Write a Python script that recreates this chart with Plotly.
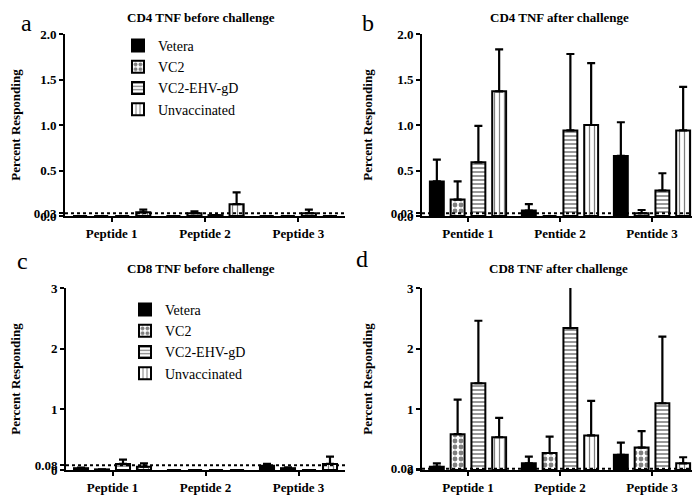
import plotly.graph_objects as go

W, H = 700, 496
OX, OY = 0, 8  # observed page offset of the figure inside the browser window

groups = ["Vetera", "VC2", "VC2-EHV-gD", "Unvaccinated"]
cats_a = ["Peptide 1", "Peptide 2", "Peptide 3"]
cats_b = ["Pentide 1", "Pentide 2", "Pentide 3"]
cats_c = ["Peptide 1", "Peptide 2", "Peptide 3"]
cats_d = ["Peptide 1", "Peptide 2", "Peptide 3"]

titles = ["CD4 TNF before challenge", "CD4 TNF after challenge",
          "CD8 TNF before challenge", "CD8 TNF after challenge"]
letters = ["a", "b", "c", "d"]

# Panel a: CD4 TNF before challenge (mean, upper SEM)
a_vals = [[0.0, 0.0, 0.0], [0.0, 0.03, 0.0], [0.0, 0.01, 0.03], [0.04, 0.13, 0.0]]
a_errs = [[0.0, 0.0, 0.0], [0.0, 0.02, 0.0], [0.0, 0.0, 0.04], [0.03, 0.13, 0.0]]
# Panel b: CD4 TNF after challenge
b_vals = [[0.38, 0.06, 0.66], [0.18, 0.0, 0.03], [0.59, 0.94, 0.28], [1.37, 1.00, 0.94]]
b_errs = [[0.24, 0.07, 0.37], [0.20, 0.0, 0.036], [0.40, 0.84, 0.19], [0.46, 0.68, 0.48]]
# Panel c: CD8 TNF before challenge
c_vals = [[0.03, 0.0, 0.07], [0.01, 0.0, 0.03], [0.10, 0.0, 0.0], [0.055, 0.0, 0.10]]
c_errs = [[0.01, 0.0, 0.03], [0.0, 0.0, 0.015], [0.07, 0.0, 0.0], [0.055, 0.0, 0.12]]
# Panel d: CD8 TNF after challenge
d_vals = [[0.055, 0.11, 0.25], [0.59, 0.28, 0.37], [1.43, 2.34, 1.10], [0.54, 0.57, 0.11]]
d_errs = [[0.055, 0.11, 0.20], [0.57, 0.27, 0.27], [1.03, 0.70, 1.10], [0.32, 0.57, 0.10]]

# thresholds (dotted lines) and y tick labels
thresholds = [0.03, 0.03, 0.08, 0.02]
ytick_a = [0, 0.03, 0.5, 1.0, 1.5, 2.0]
ytext_a = ["0.0", "0.03", "0.5", "1.0", "1.5", "2.0"]
ytick_c = [0, 0.08, 1, 2, 3]
ytext_c = ["0", "0.08", "1", "2", "3"]
ytick_d = [0, 0.02, 1, 2, 3]
ytext_d = ["0", "0.02", "1", "2", "3"]

SERIF = "Times New Roman, Liberation Serif, DejaVu Serif, serif"

styles = [
    dict(color="black"),
    dict(color="white", pattern=dict(shape=".", fgcolor="black", bgcolor="white", size=6, solidity=0.5)),
    dict(color="white", pattern=dict(shape="-", fgcolor="black", bgcolor="white", size=4, solidity=0.4)),
    dict(color="white", pattern=dict(shape="|", fgcolor="black", bgcolor="white", size=5, solidity=0.25)),
]

def fx(px):
    return (px - OX) / W

def fy(py):
    return (H - (py - OY)) / H

def px_x(a, b):
    return [fx(a), fx(b)]

def px_y(top, bottom):
    return [fy(bottom), fy(top)]

panels = [
    dict(cats=cats_a, vals=a_vals, errs=a_errs, xd=px_x(57, 337), yd=px_y(34, 216), yr=[0, 2.0],
         tv=ytick_a, tt=ytext_a, legend="legend"),
    dict(cats=cats_b, vals=b_vals, errs=b_errs, xd=px_x(414, 690), yd=px_y(34, 216), yr=[0, 2.0],
         tv=ytick_a, tt=ytext_a, legend=None),
    dict(cats=cats_c, vals=c_vals, errs=c_errs, xd=px_x(58, 337), yd=px_y(288, 470), yr=[0, 3.0],
         tv=ytick_c, tt=ytext_c, legend="legend2"),
    dict(cats=cats_d, vals=d_vals, errs=d_errs, xd=px_x(414, 690), yd=px_y(288, 470), yr=[0, 3.0],
         tv=ytick_d, tt=ytext_d, legend=None),
]

fig = go.Figure()
layout = {}
shapes = []
for p_i, p in enumerate(panels):
    n = "" if p_i == 0 else str(p_i + 1)
    xa, ya = "x" + n, "y" + n
    for g_i, g in enumerate(groups):
        st = styles[g_i]
        marker = dict(color=st["color"], line=dict(color="black", width=2))
        if "pattern" in st:
            marker["pattern"] = st["pattern"]
        kw = {}
        if p["legend"]:
            kw["legend"] = p["legend"]
        fig.add_trace(go.Bar(
            x=p["cats"], y=p["vals"][g_i], name=g, xaxis=xa, yaxis=ya,
            marker=marker, showlegend=bool(p["legend"]),
            error_y=dict(type="data", array=p["errs"][g_i], arrayminus=[0, 0, 0],
                         symmetric=False, color="black", thickness=2.2, width=4),
            **kw))
    layout["xaxis" + n] = dict(
        domain=p["xd"], anchor=ya, showline=True, linecolor="black", linewidth=2,
        ticks="outside", ticklen=4, tickwidth=1.5, tickcolor="black",
        tickfont=dict(family=SERIF, size=13, color="black", weight="bold"),
        showgrid=False, zeroline=False, fixedrange=True, automargin=False)
    layout["yaxis" + n] = dict(
        domain=p["yd"], anchor=xa, range=p["yr"], showline=True, linecolor="black", linewidth=2,
        ticks="outside", ticklen=4, tickwidth=2, tickcolor="black",
        tickvals=p["tv"], ticktext=p["tt"],
        tickfont=dict(family=SERIF, size=13, color="black", weight="bold"),
        showgrid=False, zeroline=False, automargin=False,
        title=dict(text="Percent Responding",
                   font=dict(family=SERIF, size=13, color="black", weight="bold")))
    shapes.append(dict(type="line", xref=xa + " domain", yref=ya, x0=0, x1=1,
                       y0=thresholds[p_i], y1=thresholds[p_i],
                       line=dict(color="black", width=2, dash="dot")))

annotations = []
# (x, y, yanchor) in window pixels
title_pos = [(193, 8, "top"), (551, 8, "top"), (193, 268, "middle"), (550, 268, "middle")]
letter_pos = [(18, 6, "top"), (360, 6, "top"), (14, 261, "middle"), (354, 259, "middle")]
for i in range(4):
    tx, ty, ta = title_pos[i]
    annotations.append(dict(text=titles[i], x=fx(tx), y=min(fy(ty), 1.0), xref="paper", yref="paper",
                            showarrow=False, xanchor="center", yanchor=ta,
                            font=dict(family=SERIF, size=13, color="black", weight="bold")))
    lx, ly, la = letter_pos[i]
    annotations.append(dict(text=letters[i], x=fx(lx), y=min(fy(ly), 1.0), xref="paper", yref="paper",
                            showarrow=False, xanchor="center", yanchor=la,
                            font=dict(family=SERIF, size=24, color="black")))

fig.update_layout(
    width=W, height=H, margin=dict(l=0, r=0, t=0, b=0, pad=0, autoexpand=False),
    paper_bgcolor="white", plot_bgcolor="white",
    barmode="group", bargap=0.097, bargroupgap=0.33,
    shapes=shapes, annotations=annotations,
    legend=dict(x=fx(110), y=fy(30), xanchor="left", yanchor="top",
                bgcolor="rgba(0,0,0,0)", font=dict(family=SERIF, size=14, color="black"),
                tracegroupgap=0),
    legend2=dict(x=fx(117), y=fy(294), xanchor="left", yanchor="top",
                 bgcolor="rgba(0,0,0,0)", font=dict(family=SERIF, size=14, color="black"),
                 tracegroupgap=0),
    **layout)

fig.write_html("out.html")
